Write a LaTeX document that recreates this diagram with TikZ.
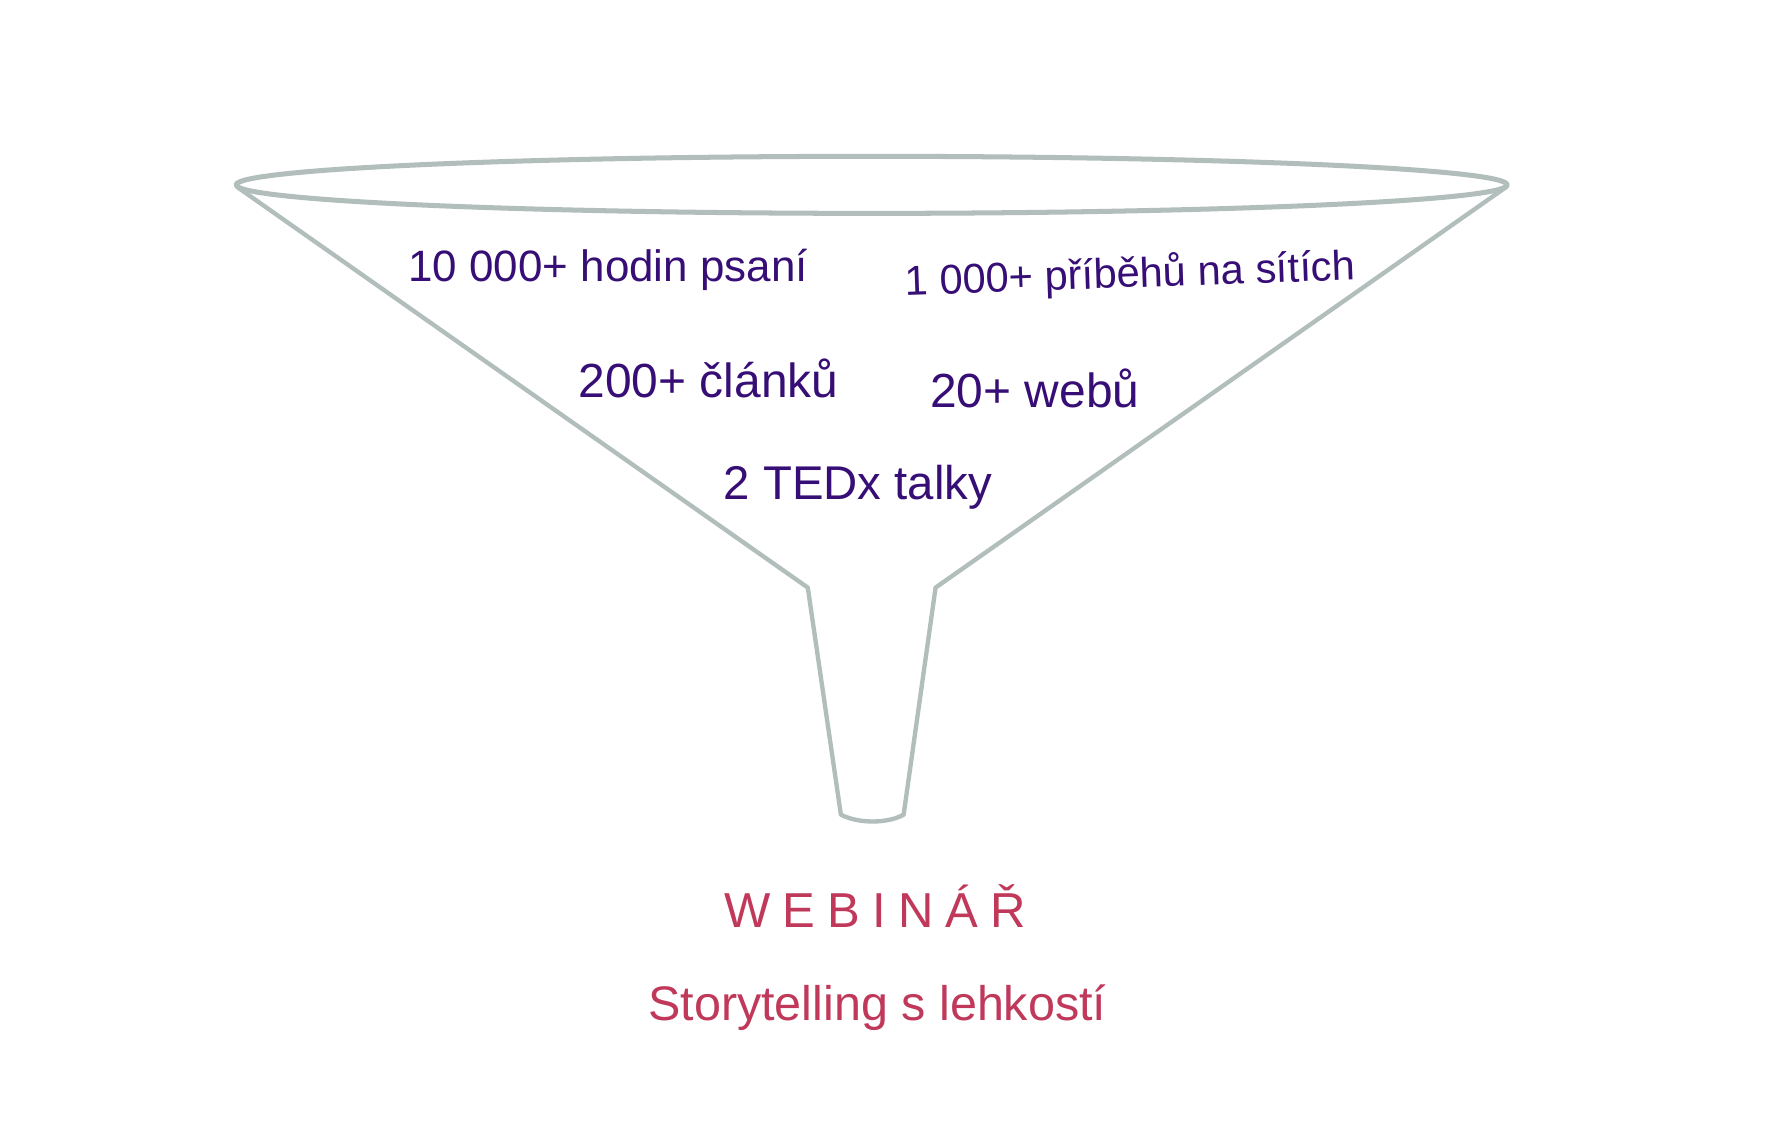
\documentclass[tikz,border=0pt]{standalone}
\usepackage{fontspec}
\setmainfont{Liberation Sans}
\definecolor{funnelgray}{RGB}{178,190,188}
\definecolor{statpurple}{RGB}{55,14,118}
\definecolor{titlered}{RGB}{192,56,90}
\newcommand{\lsp}{\hspace{0.245em}}
\begin{document}
\begin{tikzpicture}[x=1pt,y=-1pt,
  funnel/.style={draw=funnelgray,line width=3.8pt,line join=round,line cap=round},
  stat/.style={text=statpurple,inner sep=0pt,anchor=base},
  title/.style={text=titlered,inner sep=0pt,anchor=base}]
\useasboundingbox[fill=white] (0,0) rectangle (1568,1004);
% funnel rim
\draw[funnel,line width=4.4pt] (764,162) ellipse [x radius=557, y radius=25];
% cone and spout
\coordinate (rl) at (208,164);
\coordinate (rr) at (1320,164);
\coordinate (nl) at (708,515);
\coordinate (nr) at (820,515);
\coordinate (sl) at (737,714);
\coordinate (sr) at (792,714);
\draw[funnel] (rl) -- (nl) -- (sl) .. controls (752,722) and (778,722) .. (sr) -- (nr) -- (rr);
% stats
\node[stat,font=\fontsize{38.5}{44}\selectfont] (s1) at (533,247) {10 000+ hodin psaní};
\node[stat,font=\fontsize{36.5}{42}\selectfont,rotate=2] (s2) at (991,252) {1 000+ příběhů na sítích};
\node[stat,font=\fontsize{42}{48}\selectfont] (s3) at (621,348) {200+ článků};
\node[stat,font=\fontsize{42}{48}\selectfont] (s4) at (907,357) {20+ webů};
\node[stat,font=\fontsize{41.5}{48}\selectfont] (s5) at (752,438) {2 TEDx talky};
% titles
\node[title,font=\fontsize{43}{48}\selectfont] (t1) at (767,813) {W\lsp E\lsp B\lsp I\lsp N\lsp Á\lsp Ř};
\node[title,font=\fontsize{42.5}{48}\selectfont] (t2) at (769,894) {Storytelling s lehkostí};
\end{tikzpicture}
\end{document}
